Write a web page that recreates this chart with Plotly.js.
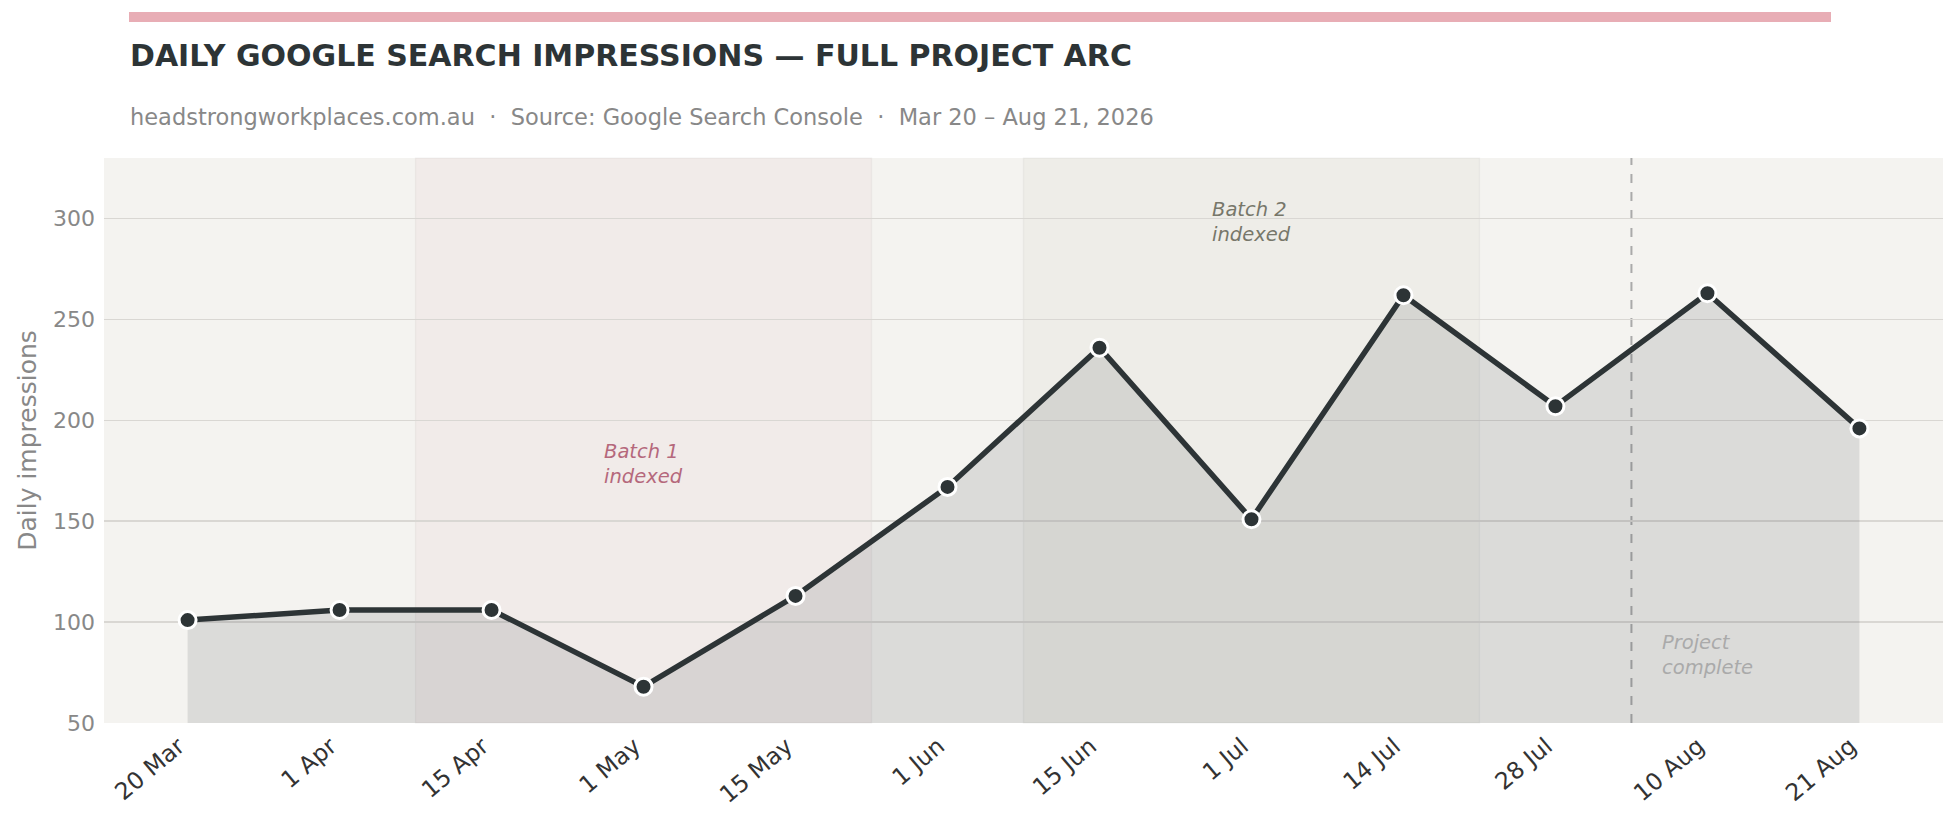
<!DOCTYPE html>
<html>
<head>
<meta charset="utf-8">
<script src="https://cdn.plot.ly/plotly-3.0.1.min.js"></script>
<style>
  html, body { margin: 0; padding: 0; background: #ffffff; }
  #chart { width: 1960px; height: 818px; }
</style>
</head>
<body>
<div id="chart"></div>
<script>
// ---- data ----
const categories = ['20 Mar', '1 Apr', '15 Apr', '1 May', '15 May', '1 Jun', '15 Jun', '1 Jul', '14 Jul', '28 Jul', '10 Aug', '21 Aug'];
const impressions = [101, 106, 106, 68, 113, 167, 236, 151, 262, 207, 263, 196];
const yTickValues = [50, 100, 150, 200, 250, 300];
const titleText = 'DAILY GOOGLE SEARCH IMPRESSIONS \u2014 FULL PROJECT ARC';
const subtitleText = 'headstrongworkplaces.com.au \u00a0\u00b7\u00a0 Source: Google Search Console \u00a0\u00b7\u00a0 Mar 20 \u2013 Aug 21, 2026';
const yTitle = 'Daily impressions';
const batch1Label = 'Batch 1<br>indexed';
const batch2Label = 'Batch 2<br>indexed';
const completeLabel = 'Project<br>complete';

// ---- layout geometry ----
const W = 1960, H = 818;
const M = {l: 104, r: 17, t: 158, b: 95};
const PW = W - M.l - M.r, PH = H - M.t - M.b;
const px = v => (v - M.l) / PW;
const py = v => (H - M.b - v) / PH;
const FONT = 'DejaVu Sans, Verdana, sans-serif';
const DARK = '#2d3436';

const trace = {
  type: 'scatter',
  mode: 'lines+markers',
  x: categories,
  y: impressions,
  line: {color: DARK, width: 5.5},
  marker: {size: 17, color: DARK, line: {color: '#ffffff', width: 3}},
  fill: 'tozeroy',
  fillcolor: 'rgba(45,52,54,0.12)',
  hoverinfo: 'x+y',
  cliponaxis: false
};

const layout = {
  width: W, height: H,
  margin: M,
  paper_bgcolor: '#ffffff',
  plot_bgcolor: '#f4f3f0',
  showlegend: false,
  font: {family: FONT, color: DARK},
  xaxis: {
    type: 'category',
    range: [-0.55, 11.55],
    showgrid: false, zeroline: false, showline: false,
    ticks: '', tickangle: -40,
    ticklabelstandoff: 4,
    ticklabelshift: -9,
    tickfont: {family: FONT, size: 23.5, color: '#333333'},
    fixedrange: true
  },
  yaxis: {
    range: [50, 330],
    tickvals: yTickValues,
    showgrid: true, gridcolor: '#d9d7d3', gridwidth: 1.6,
    zeroline: false, showline: false,
    ticks: '', ticklabelstandoff: 8,
    tickfont: {family: FONT, size: 22, color: '#888888'},
    title: {text: yTitle, font: {family: FONT, size: 25, color: '#888888'}, standoff: 9},
    fixedrange: true
  },
  shapes: [
    {type: 'rect', xref: 'x', yref: 'paper', x0: 1.5, x1: 4.5, y0: 0, y1: 1,
     fillcolor: '#f1ebe9', line: {color: 'rgba(0,0,0,0.035)', width: 1.5}, layer: 'below'},
    {type: 'rect', xref: 'x', yref: 'paper', x0: 5.5, x1: 8.5, y0: 0, y1: 1,
     fillcolor: '#eeede8', line: {color: 'rgba(0,0,0,0.035)', width: 1.5}, layer: 'below'},
    {type: 'line', xref: 'x', yref: 'paper', x0: 9.5, x1: 9.5, y0: 0, y1: 1,
     line: {color: '#aaaaaa', width: 2, dash: 'dash'}, layer: 'between'},
    {type: 'rect', xref: 'paper', yref: 'paper', x0: px(129), x1: px(1831), y0: py(22), y1: py(12),
     fillcolor: '#e8adb5', line: {width: 0}}
  ],
  annotations: [
    {xref: 'paper', yref: 'paper', x: px(128), y: py(55), xanchor: 'left', yanchor: 'middle',
     text: '<b>' + titleText + '</b>', showarrow: false,
     font: {family: FONT, size: 30, color: DARK}},
    {xref: 'paper', yref: 'paper', x: px(128), y: py(117), xanchor: 'left', yanchor: 'middle',
     text: subtitleText, showarrow: false,
     font: {family: FONT, size: 22.5, color: '#888888'}},
    {xref: 'x', yref: 'y', x: 2.725, y: 178.5, xanchor: 'left', yanchor: 'middle', align: 'left',
     text: batch1Label, showarrow: false,
     font: {family: FONT, size: 19.5, color: '#b5687c', style: 'italic'}},
    {xref: 'x', yref: 'y', x: 6.725, y: 298.2, xanchor: 'left', yanchor: 'middle', align: 'left',
     text: batch2Label, showarrow: false,
     font: {family: FONT, size: 19.5, color: '#77776a', style: 'italic'}},
    {xref: 'x', yref: 'y', x: 9.685, y: 83.5, xanchor: 'left', yanchor: 'middle', align: 'left',
     text: completeLabel, showarrow: false,
     font: {family: FONT, size: 19.5, color: '#aaaaaa', style: 'italic'}}
  ]
};

Plotly.newPlot('chart', [trace], layout, {displayModeBar: false, staticPlot: true});
</script>
</body>
</html>
